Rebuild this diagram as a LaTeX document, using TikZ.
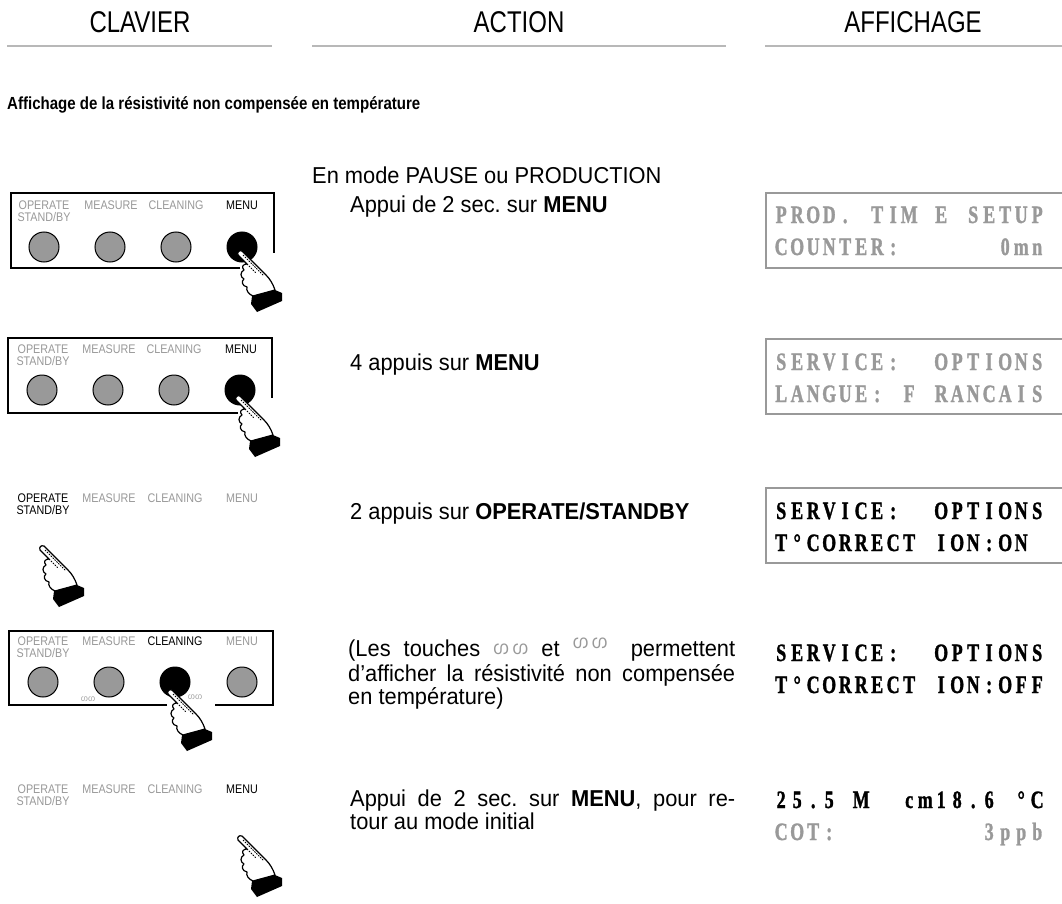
\documentclass[tikz,border=0pt]{standalone}
\usepackage{fontspec}
\setmainfont{Liberation Sans}
\newfontfamily\narrowfont[FakeStretch=0.86]{Liberation Sans}
\newfontfamily\headfont[FakeStretch=0.8]{Liberation Sans}
\newfontfamily\actfont[FakeStretch=0.95]{Liberation Sans}
\newfontfamily\lcdfont[FakeStretch=0.72,BoldFeatures={FakeBold=1.2}]{Liberation Serif}
\newfontfamily\mlfont[Script=Malayalam]{Hind Kochi}
\usetikzlibrary{positioning}

\definecolor{keygray}{gray}{0.6}
\definecolor{lcdgray}{gray}{0.6}
\definecolor{rulegray}{gray}{0.72}

% one character per display cell
\newcommand\lcdstop{}
\newcommand\lcdcell[1]{\ifx#1\lcdstop\else\makebox[16pt][c]{#1}\expandafter\lcdcell\fi}
\newcommand\lcd[1]{\lcdcell#1\lcdstop}
\newcommand\updn{{\mlfont ഗ}}
\newcommand\arrows{\smash{\textcolor{keygray}{\fontsize{18}{18}\selectfont\updn\,\updn}}}

\tikzset{
  heading/.style={font=\headfont\fontsize{30}{30}\selectfont,anchor=base,inner sep=0},
  rule/.style={draw=rulegray,line width=2pt},
  keylabel/.style={font=\narrowfont\fontsize{12.5}{12.5}\selectfont,text=keygray,anchor=base,inner sep=0},
  button/.style={circle,draw,line width=1pt,fill=keygray,minimum size=30pt,inner sep=0},
  panel/.style={draw,line width=1.1pt},
  action/.style={font=\actfont\frenchspacing\fontsize{23}{23}\selectfont,anchor=base west,inner sep=0},
  lcdline/.style={font=\lcdfont\bfseries\fontsize{25}{25}\selectfont,anchor=base west,inner sep=0},
  screen/.style={draw=lcdgray,line width=1.3pt},
  hand/.pic={
    \draw[line width=1.2pt,fill=white,line join=round]
      (2,-2) -- (26,22) .. controls (30,26) and (33,31) .. (35,37)
      -- (13,43)
      .. controls (8,41) and (6,37) .. (7,34)
      .. controls (2,33) and (1,28) .. (4,26)
      .. controls (0,24) and (0,19) .. (4,17)
      .. controls (1,14) and (3,11) .. (7,11)
      -- (-2,2) .. controls (-3,-1) and (-1,-3) .. (2,-2) -- cycle;
    \fill (12,43) -- (35,37) -- (42,40) -- (42,48) -- (17,59) -- (11,51) -- cycle;
    \draw[line width=0.9pt,dash pattern=on 1.5pt off 1.2pt] (3,2) -- (24,23);
    \draw[line width=0.8pt,dash pattern=on 1.5pt off 1.2pt] (7,11) -- (16,20);
  }
}

\begin{document}
\begin{tikzpicture}[x=1pt,y=-1pt]
\useasboundingbox[fill=white] (0,0) rectangle (1062,904);

\node[heading] (clavier) at (140,33) {CLAVIER};
\node[heading] (action) at (519,33) {ACTION};
\node[heading] (affichage) at (913,33) {AFFICHAGE};
\draw[rule] (7,46) -- (272,46);
\draw[rule] (312,46) -- (726,46);
\draw[rule] (765,46) -- (1062,46);

\node[anchor=base west,inner sep=0,font=\narrowfont\bfseries\fontsize{17.5}{17.5}\selectfont] (title) at (7,110)
  {Affichage de la résistivité non compensée en température};

% keypad, MENU pressed
\draw[panel] (240,268) -- (11,268) -- (11,193) -- (274,193) -- (274,253);
\node[keylabel] (op1) at (44,209) {OPERATE};
\node[keylabel] (sb1) at (44,221) {STAND/BY};
\node[keylabel] (me1) at (111,209) {MEASURE};
\node[keylabel] (cl1) at (176,209) {CLEANING};
\node[keylabel,text=black] (mn1) at (242,209) {MENU};
\foreach \x/\n in {44/1,110/2,176/3} \node[button] (k1\n) at (\x,247) {};
\node[button,fill=black] (k14) at (242,247) {};
\pic at (240,253) {hand};

\draw[panel] (238,413) -- (8,413) -- (8,338) -- (272,338) -- (272,398);
\node[keylabel] (op2) at (43,353) {OPERATE};
\node[keylabel] (sb2) at (43,365) {STAND/BY};
\node[keylabel] (me2) at (109,353) {MEASURE};
\node[keylabel] (cl2) at (174,353) {CLEANING};
\node[keylabel,text=black] (mn2) at (241,353) {MENU};
\foreach \x/\n in {42/1,108/2,174/3} \node[button] (k2\n) at (\x,390) {};
\node[button,fill=black] (k24) at (240,390) {};
\pic at (238,398) {hand};

% OPERATE/STANDBY, no panel
\node[keylabel,text=black] (op3) at (43,502) {OPERATE};
\node[keylabel,text=black] (sb3) at (43,514) {STAND/BY};
\node[keylabel] (me3) at (109,502) {MEASURE};
\node[keylabel] (cl3) at (175,502) {CLEANING};
\node[keylabel] (mn3) at (242,502) {MENU};
\pic at (42,548) {hand};

% CLEANING pressed
\draw[panel] (167,705) -- (9,705) -- (9,631) -- (273,631) -- (273,705) -- (215,705);
\node[keylabel] (op4) at (43,645) {OPERATE};
\node[keylabel] (sb4) at (43,657) {STAND/BY};
\node[keylabel] (me4) at (109,645) {MEASURE};
\node[keylabel,text=black] (cl4) at (175,645) {CLEANING};
\node[keylabel] (mn4) at (242,645) {MENU};
\foreach \x/\n in {43/1,109/2,242/4} \node[button] (k4\n) at (\x,682) {};
\node[button,fill=black] (k43) at (175,682) {};
\node[keylabel,font=\fontsize{8}{8}\selectfont] (dn4) at (88,701) {\updn\updn};
\node[keylabel,font=\fontsize{8}{8}\selectfont] (up4) at (195,699) {\updn\updn};
\pic at (170,692) {hand};

\node[keylabel] (op5) at (43,793) {OPERATE};
\node[keylabel] (sb5) at (43,805) {STAND/BY};
\node[keylabel] (me5) at (109,793) {MEASURE};
\node[keylabel] (cl5) at (175,793) {CLEANING};
\node[keylabel,text=black] (mn5) at (242,793) {MENU};
\pic at (240,838) {hand};

% action column
\node[action] (a1) at (312,183) {En mode PAUSE ou PRODUCTION};
\node[action] (a1b) at (350,212) {Appui de 2 sec. sur \textbf{MENU}};
\node[action] (a2) at (350,370) {4 appuis sur \textbf{MENU}};
\node[action] (a3) at (350,519) {2 appuis sur \textbf{OPERATE/STANDBY}};
\node[action] (a4) at (348,656) {\makebox[387pt][s]{(Les touches \raisebox{2pt}{\arrows} et \raisebox{8pt}{\arrows}\quad permettent}};
\node[action] (a4b) at (348,681) {\makebox[387pt][s]{d’afficher la résistivité non compensée}};
\node[action] (a4c) at (348,704) {en température)};
\node[action] (a5) at (350,806) {\makebox[385pt][s]{Appui de 2 sec. sur \textbf{MENU}, pour re-}};
\node[action] (a5b) at (350,829) {tour au mode initial};

% display column
\draw[screen] (766,193) rectangle (1075,268);
\node[lcdline,text=lcdgray] (d1) at (773,223) {\lcd{PROD.~TIM~E~SETUP}};
\node[lcdline,text=lcdgray] (d1b) at (773,255) {\lcd{COUNTER:~~~~~~0mn}};
\draw[screen] (766,339) rectangle (1075,414);
\node[lcdline,text=lcdgray] (d2) at (773,370) {\lcd{SERVICE:~~OPTIONS}};
\node[lcdline,text=lcdgray] (d2b) at (773,402) {\lcd{LANGUE:~F~RANCAIS}};
\draw[screen] (766,488) rectangle (1075,563);
\node[lcdline] (d3) at (773,519) {\lcd{SERVICE:~~OPTIONS}};
\node[lcdline] (d3b) at (773,551) {\lcd{T°CORRECT~ION:ON}};
\node[lcdline] (d4) at (773,661) {\lcd{SERVICE:~~OPTIONS}};
\node[lcdline] (d4b) at (773,693) {\lcd{T°CORRECT~ION:OFF}};
\node[lcdline] (d5) at (773,808) {\lcd{25.5~M~~cm18.6~°C}};
\node[lcdline,text=lcdgray] (d5b) at (773,840) {\lcd{COT:~~~~~~~~~3ppb}};
\end{tikzpicture}
\end{document}
